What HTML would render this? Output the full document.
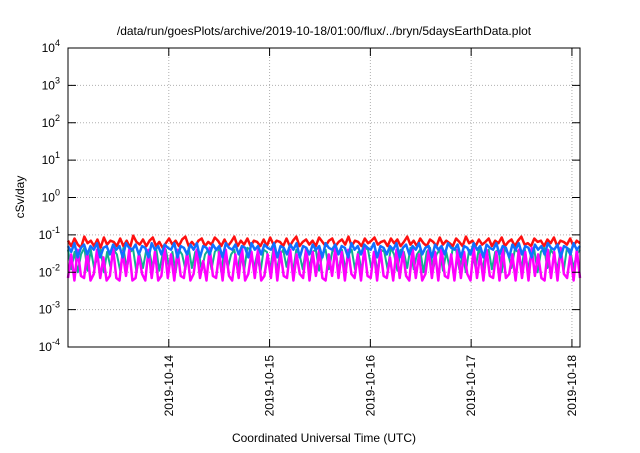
<!DOCTYPE html>
<html><head><meta charset="utf-8"><style>
body{margin:0;background:#fff;width:640px;height:448px;overflow:hidden;font-family:"Liberation Sans",sans-serif}
text{font-family:"Liberation Sans",sans-serif;fill:#000}
</style></head><body>
<svg id="chart" width="640" height="448" xmlns="http://www.w3.org/2000/svg">
<text x="324" y="35" font-size="12" text-anchor="middle">/data/run/goesPlots/archive/2019-10-18/01:00/flux/../bryn/5daysEarthData.plot</text>
<g id="grid"></g>
<g id="series"></g>
<rect x="68" y="48" width="512" height="299" fill="none" stroke="#000" stroke-width="1"/>
<g id="axes"></g>
<text transform="translate(24,197) rotate(-90)" font-size="12" text-anchor="middle">cSv/day</text>
<text x="324" y="442" font-size="12" text-anchor="middle">Coordinated Universal Time (UTC)</text>
</svg>
<script>
const yExponents=[4,3,2,1,0,-1,-2,-3,-4];
const xTickLabels=["2019-10-14","2019-10-15","2019-10-16","2019-10-17","2019-10-18"];
const xTickDays=[1,2,3,4,5];
const xStartDay=0, xEndDay=5.08;
const redVals=[0.07,0.05,0.08,0.055,0.045,0.09,0.06,0.07,0.05,0.075,0.045,0.085,0.055,0.07,0.065,0.05,0.08,0.05,0.07,0.045,0.095,0.065,0.055,0.075,0.05,0.07,0.085,0.05,0.065,0.045,0.06,0.08,0.055,0.07,0.05,0.075,0.09,0.05,0.065,0.05,0.07,0.08,0.05,0.065,0.055,0.085,0.07,0.05,0.075,0.05,0.065,0.09,0.05,0.07,0.055,0.08,0.05,0.07,0.065,0.05,0.075,0.05,0.085,0.055,0.07,0.065,0.05,0.08,0.05,0.07,0.09,0.05,0.065,0.075,0.055,0.07,0.05,0.085,0.065,0.05,0.07,0.08,0.05,0.065,0.075,0.055,0.09,0.05,0.07,0.065,0.05,0.08,0.06,0.07,0.085,0.055,0.065,0.07,0.05,0.08,0.06,0.075,0.05,0.065,0.09,0.055,0.07,0.05,0.08,0.06,0.05,0.075,0.065,0.05,0.085,0.055,0.07,0.06,0.05,0.08,0.065,0.05,0.09,0.06,0.07,0.05,0.075,0.055,0.065,0.08,0.05,0.07,0.06,0.085,0.05,0.065,0.075,0.05,0.07,0.09,0.055,0.06,0.05,0.08,0.065,0.07,0.05,0.075,0.06,0.085,0.05,0.07,0.065,0.055,0.08,0.05,0.07,0.06];
const greenVals=[0.04,0.012,0.035,0.01,0.03,0.045,0.011,0.04,0.013,0.025,0.04,0.01,0.035,0.014,0.04,0.03,0.011,0.045,0.012,0.035,0.04,0.01,0.03,0.013,0.04,0.035,0.012,0.045,0.011,0.03,0.04,0.014,0.035,0.01,0.04,0.03,0.012,0.045,0.013,0.035,0.04,0.011,0.03,0.04,0.012,0.035,0.045,0.01,0.04,0.013,0.03,0.04,0.012,0.035,0.011,0.045,0.04,0.013,0.03,0.01,0.04,0.035,0.012,0.045,0.011,0.03,0.04,0.014,0.035,0.01,0.04,0.03,0.012,0.045,0.013,0.035,0.04,0.011,0.03,0.04,0.012,0.035,0.045,0.01,0.04,0.013,0.03,0.04,0.012,0.035,0.011,0.045,0.04,0.013,0.03,0.01,0.04,0.035,0.012,0.045,0.03,0.011,0.04,0.035,0.013,0.045,0.012,0.03,0.04,0.01,0.035,0.045,0.012,0.03,0.04,0.011,0.035,0.013,0.045,0.04,0.012,0.03,0.01,0.04,0.035,0.013,0.045,0.011,0.03,0.04,0.012,0.035,0.04,0.01,0.045,0.03,0.013,0.04,0.035,0.011,0.045,0.012,0.03,0.04,0.01,0.035,0.045,0.013,0.04,0.03,0.012,0.035,0.011,0.045,0.04,0.013,0.03,0.04];
const magentaVals=[0.007,0.03,0.006,0.04,0.008,0.007,0.035,0.006,0.009,0.04,0.007,0.025,0.006,0.008,0.045,0.007,0.006,0.035,0.008,0.04,0.006,0.007,0.03,0.009,0.006,0.04,0.007,0.035,0.006,0.008,0.045,0.007,0.03,0.006,0.04,0.008,0.007,0.035,0.006,0.009,0.04,0.007,0.02,0.006,0.045,0.008,0.007,0.035,0.006,0.04,0.008,0.006,0.03,0.007,0.045,0.006,0.009,0.035,0.007,0.04,0.006,0.008,0.03,0.007,0.045,0.006,0.035,0.008,0.007,0.04,0.006,0.03,0.009,0.007,0.045,0.006,0.035,0.008,0.04,0.007,0.006,0.03,0.008,0.045,0.007,0.035,0.006,0.04,0.009,0.007,0.03,0.006,0.045,0.008,0.007,0.035,0.006,0.04,0.008,0.007,0.025,0.006,0.04,0.007,0.035,0.008,0.006,0.045,0.007,0.03,0.006,0.009,0.04,0.007,0.035,0.006,0.045,0.008,0.007,0.03,0.006,0.04,0.007,0.035,0.009,0.006,0.045,0.007,0.03,0.006,0.04,0.008,0.007,0.035,0.006,0.045,0.007,0.009,0.03,0.006,0.04,0.007,0.035,0.006,0.045,0.008,0.03,0.007,0.006,0.04,0.007,0.035,0.006,0.045,0.009,0.007,0.03,0.006,0.04,0.007];
const blueVals=[0.05,0.035,0.06,0.025,0.045,0.055,0.03,0.05,0.04,0.06,0.025,0.045,0.05,0.03,0.055,0.04,0.05,0.025,0.06,0.045,0.04,0.055,0.03,0.05,0.045,0.025,0.06,0.04,0.05,0.03,0.055,0.045,0.04,0.06,0.025,0.05,0.045,0.03,0.055,0.04,0.06,0.025,0.05,0.045,0.03,0.055,0.04,0.05,0.025,0.06,0.045,0.04,0.055,0.03,0.05,0.045,0.025,0.06,0.04,0.05,0.03,0.055,0.045,0.04,0.06,0.025,0.05,0.045,0.03,0.055,0.04,0.06,0.025,0.05,0.045,0.03,0.055,0.04,0.05,0.025,0.06,0.045,0.04,0.055,0.03,0.05,0.045,0.025,0.06,0.04,0.05,0.03,0.055,0.045,0.04,0.06,0.025,0.05,0.045,0.03,0.05,0.04,0.06,0.025,0.045,0.055,0.03,0.05,0.04,0.06,0.03,0.045,0.05,0.025,0.055,0.04,0.05,0.03,0.06,0.045,0.04,0.055,0.025,0.05,0.045,0.03,0.06,0.04,0.05,0.025,0.055,0.045,0.04,0.06,0.03,0.05,0.045,0.025,0.055,0.04,0.06,0.03,0.05,0.045,0.025,0.055,0.04,0.05,0.03,0.06,0.045,0.04,0.055,0.025,0.05,0.045,0.03,0.06,0.04,0.05];
const NS="http://www.w3.org/2000/svg";
const L=68,R=580,T=48,B=347;
const yMin=-4,yMax=4;
function yScale(v){return B-(Math.log10(v)-yMin)/(yMax-yMin)*(B-T);}
function xScale(d){return L+(d-xStartDay)/(xEndDay-xStartDay)*(R-L);}
function mk(tag,attrs,parent){const e=document.createElementNS(NS,tag);for(const k in attrs)e.setAttribute(k,attrs[k]);parent.appendChild(e);return e;}
const grid=document.getElementById('grid'),axes=document.getElementById('axes'),series=document.getElementById('series');
yExponents.forEach(p=>{
  const y=yScale(Math.pow(10,p));
  if(p>yMin&&p<yMax){const g=mk('line',{x1:L,x2:R,y1:y,y2:y,stroke:'#b0b0b0','stroke-dasharray':'1,2','stroke-width':1},grid);
  
  }
  const t1=mk('line',{x1:L,x2:L+8,y1:y,y2:y,stroke:'#000'},axes);
  
  
  const t2=mk('line',{x1:R-8,x2:R,y1:y,y2:y,stroke:'#000'},axes);
  
  
  const tx=mk('text',{x:L-8,y:y+4,'font-size':12,'text-anchor':'end'},axes);
  
  
  const b=document.createElementNS(NS,'tspan');b.textContent='10';tx.appendChild(b);
  const s=document.createElementNS(NS,'tspan');s.setAttribute('dy','-6');s.setAttribute('font-size','9');s.textContent=String(p);tx.appendChild(s);
});
xTickDays.forEach((d,i)=>{
  const x=xScale(d);
  const g=mk('line',{x1:x,x2:x,y1:T,y2:B,stroke:'#b0b0b0','stroke-dasharray':'1,2'},grid);
  
  
  const t1=mk('line',{x1:x,x2:x,y1:B,y2:B-8,stroke:'#000'},axes);
  
  
  const t2=mk('line',{x1:x,x2:x,y1:T,y2:T+8,stroke:'#000'},axes);
  
  
  const tx=mk('text',{transform:`translate(${x+4},${B+8}) rotate(-90)`,'font-size':12,'text-anchor':'end'},axes);
  
  
  tx.textContent=xTickLabels[i];
});
function drawSeries(vals,color,name,w){
  const n=vals.length;
  const pts=vals.map((v,i)=>xScale(xStartDay+(xEndDay-xStartDay)*i/(n-1)).toFixed(1)+','+yScale(v).toFixed(1)).join(' ');
  const p=mk('polyline',{points:pts,fill:'none',stroke:color,'stroke-width':w,'stroke-linejoin':'round'},series);
  
  
}
drawSeries(redVals,'#ff1010','series-red',2.5);
drawSeries(greenVals,'#10b090','series-green',2);
drawSeries(magentaVals,'#ff00ff','series-magenta',2.5);
drawSeries(blueVals,'#1070ff','series-blue',2.5);
</script>
</body></html>
